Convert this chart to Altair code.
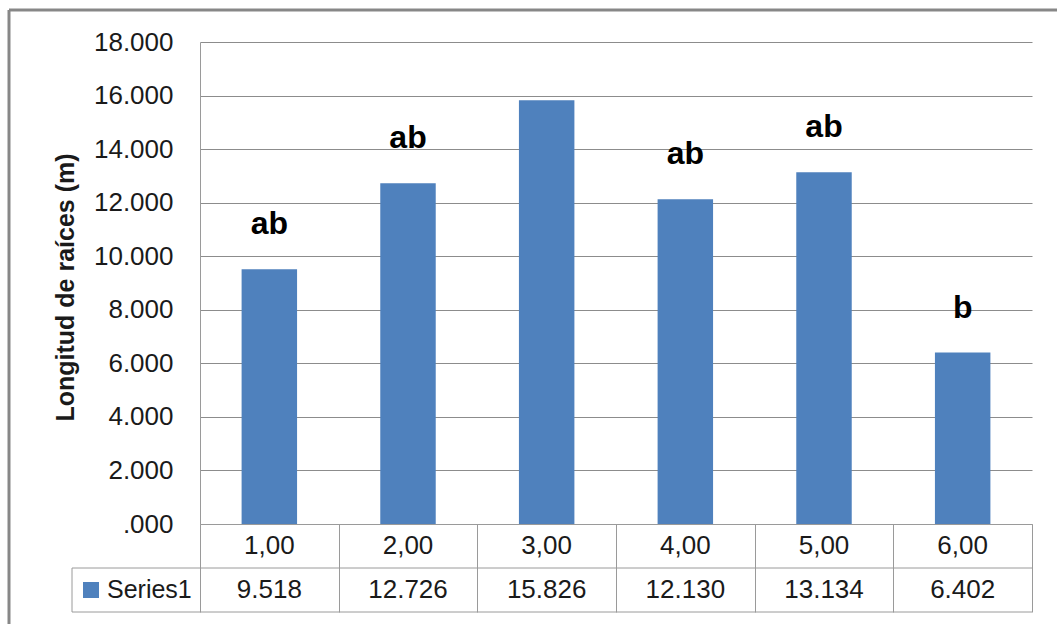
import altair as alt
import pandas as pd

# Root length per treatment, with significance letters
categories = ["1,00", "2,00", "3,00", "4,00", "5,00", "6,00"]
lengths = [9.518, 12.726, 15.826, 12.130, 13.134, 6.402]
groups = ["ab", "ab", "", "ab", "ab", "b"]
y_ticks = [0, 2, 4, 6, 8, 10, 12, 14, 16, 18]
series_name = "Series1"

W, H = 832, 482          # plot area
ROW = 44                 # height of a data-table row
FONT = "Liberation Sans"
BLUE = "#4F81BD"
GRID = "#8c8c8c"
LINE = "#9a9a9a"
TEXT = "#1a1a1a"

df = pd.DataFrame({"cat": categories, "len": lengths, "grp": groups})
legend_df = pd.DataFrame({"name": [series_name]})

x_enc = alt.X(
    "cat:N",
    sort=categories,
    scale=alt.Scale(paddingInner=0, paddingOuter=0),
    axis=alt.Axis(
        title=None, labels=False, grid=False,
        domain=True, domainColor=LINE, domainWidth=1,
        ticks=True, tickBand="extent", tickSize=2 * ROW,
        tickColor=LINE, tickWidth=1,
    ),
)

y_enc = alt.Y(
    "len:Q",
    scale=alt.Scale(domain=[0, 18], nice=False),
    axis=alt.Axis(
        values=y_ticks,
        labelExpr="datum.value == 0 ? '.000' : format(datum.value, '.3f')",
        labelFont=FONT, labelFontSize=26, labelColor=TEXT, labelPadding=27,
        ticks=False, domain=True, domainColor=LINE, domainWidth=1,
        grid=True, gridColor=GRID, gridWidth=1,
        title="Longitud de raíces (m)", titleFont=FONT, titleFontSize=25,
        titleFontWeight="bold", titleColor=TEXT, titleAngle=-90,
        titleX=-127, titleY=245, titleAlign="center", titleBaseline="alphabetic",
    ),
)

bars = alt.Chart(df).mark_bar(color=BLUE, width=alt.RelativeBandSize(0.4)).encode(
    x=x_enc, y=y_enc
)

letters = alt.Chart(df).mark_text(
    baseline="alphabetic", dy=-35, font=FONT, fontSize=32, fontWeight="bold", color="#000000"
).encode(x=alt.X("cat:N", sort=categories), y="len:Q", text="grp:N")

# Data table under the axis: category row and value row
cat_row = alt.Chart(df).mark_text(
    baseline="middle", font=FONT, fontSize=26, color=TEXT
).encode(x=alt.X("cat:N", sort=categories), y=alt.value(H + ROW / 2), text="cat:N")

val_row = alt.Chart(df).mark_text(
    baseline="middle", font=FONT, fontSize=26, color=TEXT
).encode(
    x=alt.X("cat:N", sort=categories),
    y=alt.value(H + ROW * 1.5),
    text=alt.Text("len:Q", format=".3f"),
)

base = alt.Chart(legend_df)
row_line = base.mark_rule(color=LINE, strokeWidth=1).encode(
    x=alt.value(-128), x2=alt.value(W), y=alt.value(H + ROW)
)
bottom_line = base.mark_rule(color=LINE, strokeWidth=1).encode(
    x=alt.value(-128), x2=alt.value(W), y=alt.value(H + 2 * ROW)
)
left_line = base.mark_rule(color=LINE, strokeWidth=1).encode(
    x=alt.value(-128), y=alt.value(H + ROW), y2=alt.value(H + 2 * ROW)
)
swatch = base.mark_rect(color=BLUE).encode(
    x=alt.value(-117), x2=alt.value(-101), y=alt.value(H + 58), y2=alt.value(H + 74)
)
legend_text = base.mark_text(
    align="left", baseline="middle", font=FONT, fontSize=25, color=TEXT
).encode(x=alt.value(-93), y=alt.value(H + ROW * 1.5), text="name:N")

# Chart-area frame (top and left edges)
frame_top = base.mark_rule(color="#878787", strokeWidth=3).encode(
    x=alt.value(-191), x2=alt.value(W + 60), y=alt.value(-32)
)
frame_left = base.mark_rule(color="#878787", strokeWidth=3).encode(
    x=alt.value(-191), y=alt.value(-32), y2=alt.value(H + 140)
)

chart = alt.layer(
    bars, letters, cat_row, val_row,
    row_line, bottom_line, left_line, swatch, legend_text,
    frame_top, frame_left,
).properties(
    width=W, height=H,
    autosize=alt.AutoSizeParams(type="none"),
    padding={"left": 200, "top": 42, "right": 25, "bottom": 100},
    background="white",
).configure_view(stroke=None)

chart.save("out.html", embed_options={"renderer": "svg", "actions": False})
